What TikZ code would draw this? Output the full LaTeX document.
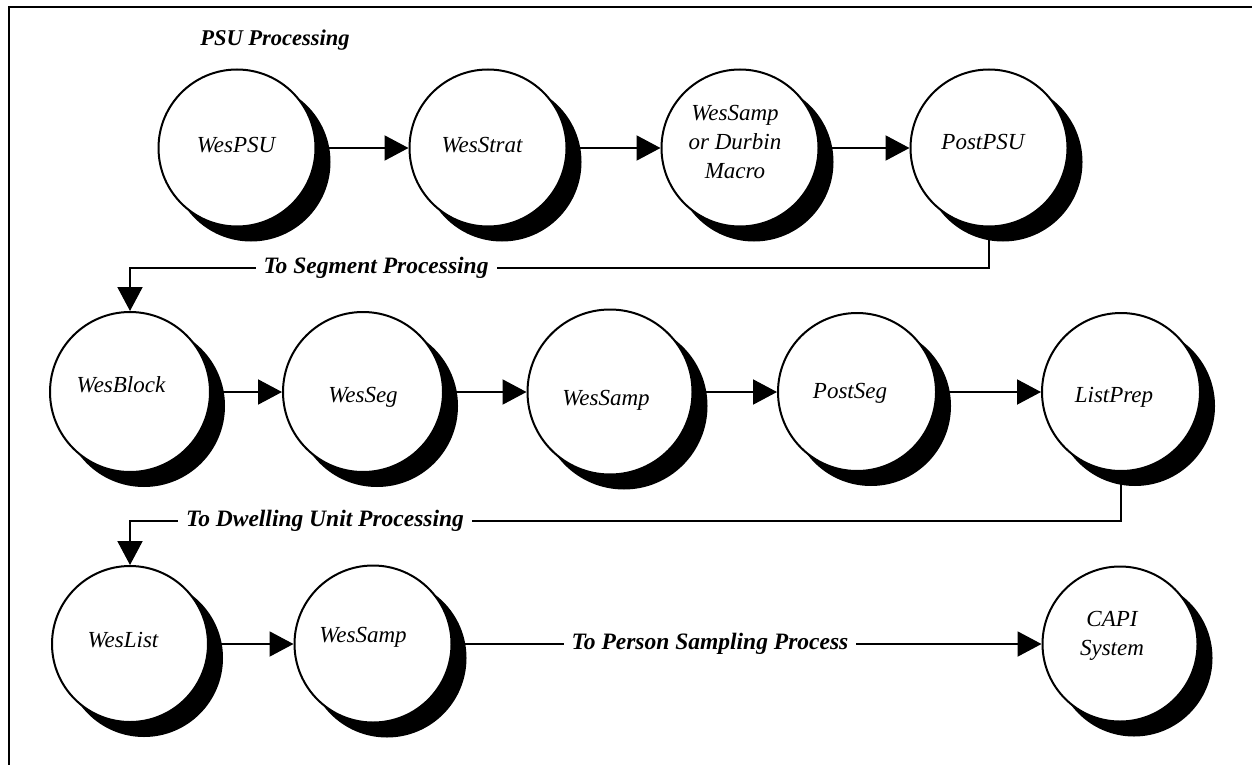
\documentclass[tikz,border=0pt]{standalone}
\usepackage{fontspec}
\setmainfont{Liberation Serif}
\usetikzlibrary{arrows.meta}
\pgfdeclarelayer{bg}
\pgfsetlayers{bg,main}
\tikzset{
  proc/.style={circle, draw, line width=2pt, fill=white, minimum size=#1, inner sep=0pt},
  shadowdisc/.style={circle, fill=black, minimum size=#1, inner sep=0pt},
  ptext/.style={font=\fontsize{23}{29}\selectfont\itshape, align=center, inner sep=0pt},
  lbl/.style={font=\fontsize{23.5}{28}\selectfont\bfseries\itshape, fill=white, inner xsep=8pt, inner ysep=2pt},
  title/.style={font=\fontsize{22.5}{28}\selectfont\bfseries\itshape, inner sep=0pt},
  conn/.style={line width=2pt},
  arr/.style={line width=2pt, -{Triangle[length=24pt,width=25pt]}},
}
% name, x, y, diameter, text x, text y, text
\newcommand\procnode[7]{%
  \node[shadowdisc=#4pt+2pt] (#1s) at (#2+14,#3+14) {};
  \node[proc=#4pt] (#1) at (#2,#3) {};
  \node[ptext] (#1t) at (#5,#6) {#7};
}
\begin{document}
\begin{tikzpicture}[x=1pt,y=-1pt]
\useasboundingbox (0,0) rectangle (1252,765);
\draw[line width=2pt] (9,765) -- (9,7) -- (1252,7);

\node[title] (psu) at (275,40) {PSU Processing};

% row 1
\procnode{a1}{237}{148}{157}{236}{145}{WesPSU}
\procnode{a2}{488}{148}{157}{482}{145}{WesStrat}
\procnode{a3}{740}{148}{157}{735}{142}{WesSamp\\or Durbin\\Macro}
\procnode{a4}{989}{148}{157}{983}{142}{PostPSU}

% row 2
\procnode{b1}{130}{392}{160}{121}{385}{WesBlock}
\procnode{b2}{363}{392}{160}{363}{397}{WesSeg}
\procnode{b3}{610}{392}{165}{606}{400}{WesSamp}
\procnode{b4}{857}{392}{158}{850}{393}{PostSeg}
\procnode{b5}{1121}{392}{158}{1114}{397}{ListPrep}

% row 3
\procnode{c1}{130}{644}{156}{123}{640}{WesList}
\procnode{c2}{373}{644}{157}{363}{637}{WesSamp}
\procnode{c3}{1120}{644}{155}{1112}{636}{CAPI\\System}

\coordinate (segR) at (989,268);
\coordinate (segL) at (130,268);
\coordinate (dwR) at (1121,521);
\coordinate (dwL) at (130,521);

\begin{pgfonlayer}{bg}
  \draw[arr] (a1) -- (a2);
  \draw[arr] (a2) -- (a3);
  \draw[arr] (a3) -- (a4);
  \draw[arr] (a4) -- (segR) -- (segL) -- (b1);
  \draw[arr] (b1) -- (b2);
  \draw[arr] (b2) -- (b3);
  \draw[arr] (b3) -- (b4);
  \draw[arr] (b4) -- (b5);
  \draw[arr] (b5) -- (dwR) -- (dwL) -- (c1);
  \draw[arr] (c1) -- (c2);
  \draw[arr] (c2) -- (c3);
\end{pgfonlayer}

\node[lbl] (segLbl) at (376,268) {To Segment Processing};
\node[lbl] (dwLbl) at (325,521) {To Dwelling Unit Processing};
\node[lbl] (perLbl) at (710,644) {To Person Sampling Process};
\end{tikzpicture}
\end{document}
